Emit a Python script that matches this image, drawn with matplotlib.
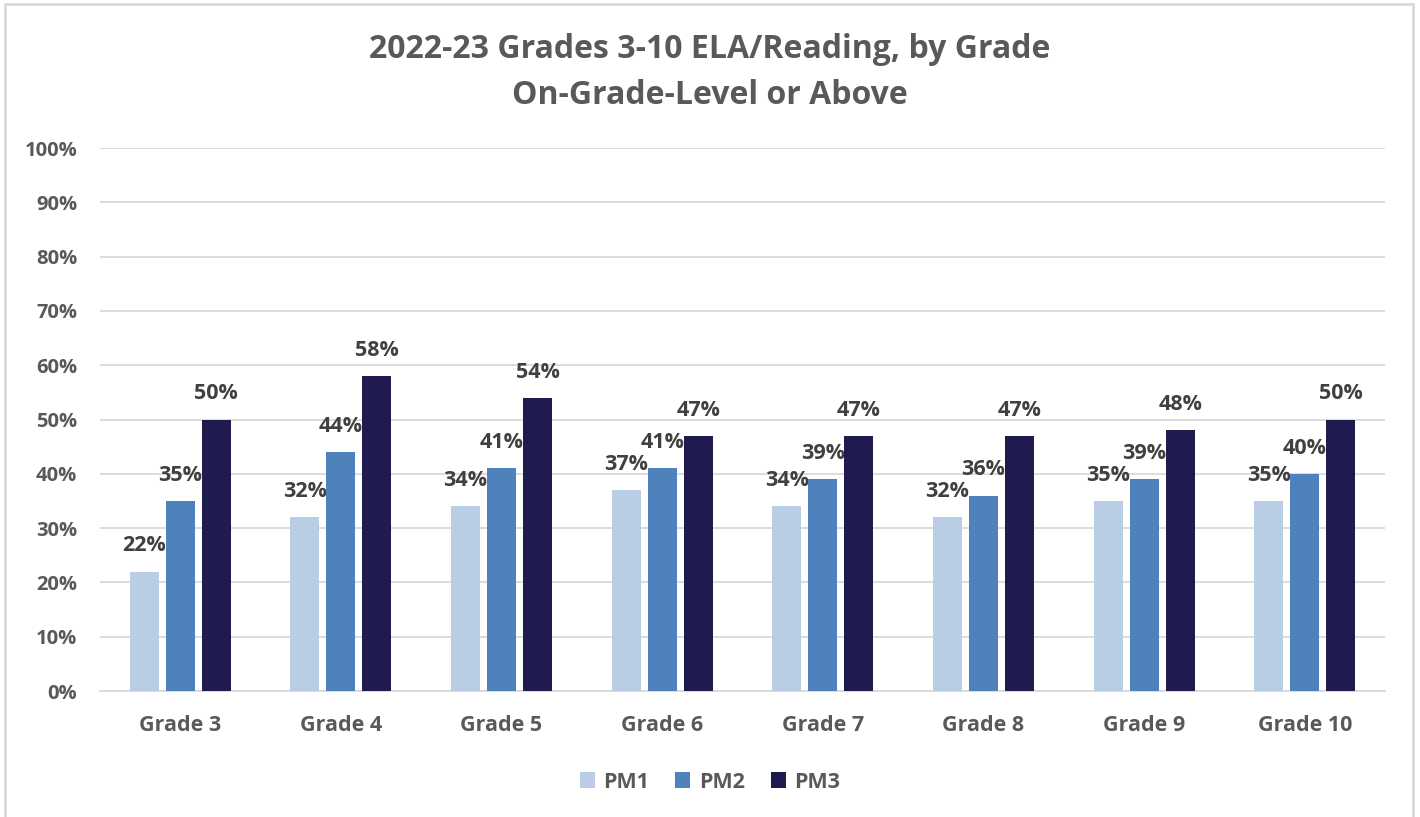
import numpy as np
import matplotlib.pyplot as plt
from matplotlib.patches import Rectangle

plt.rcParams['font.family'] = ['Open Sans', 'DejaVu Sans']

# data
grades = ['Grade 3', 'Grade 4', 'Grade 5', 'Grade 6', 'Grade 7', 'Grade 8', 'Grade 9', 'Grade 10']
pm1 = [22, 32, 34, 37, 34, 32, 35, 35]
pm2 = [35, 44, 41, 41, 39, 36, 39, 40]
pm3 = [50, 58, 54, 47, 47, 47, 48, 50]
series_names = ['PM1', 'PM2', 'PM3']
colors = ['#B9CDE5', '#4F81BD', '#1F1B4F']

fig = plt.figure(figsize=(14.2, 8.17), dpi=100)
ax = fig.add_axes([0.0704, 0.1542, 0.905, 0.6646])

# chart frame
fig.patches.append(Rectangle((5 / 1420, -0.01), 1408 / 1420, 1 - 4 / 817 + 0.01,
                             transform=fig.transFigure, fill=False,
                             edgecolor='#D9D9D9', linewidth=2))

x = np.arange(len(grades))
w = 0.18
step = 0.224
for i, (vals, name) in enumerate(zip([pm1, pm2, pm3], series_names)):
    pos = x + (i - 1) * step
    bars = ax.bar(pos, vals, width=w, color=colors[i], label=name, zorder=3)
    for xp, v in zip(pos, vals):
        ax.annotate(f'{v}%', (xp, v), xytext=(0, 11), textcoords='offset points',
                    ha='center', va='bottom', fontsize=15.5, fontweight='bold',
                    color='#404040')

ax.set_xlim(-0.5, len(grades) - 0.5)
ax.set_ylim(0, 100)
ax.set_yticks(np.arange(0, 101, 10))
ax.set_yticklabels([f'{t}%' for t in range(0, 101, 10)])
ax.set_xticks(x)
ax.set_xticklabels(grades)
ax.tick_params(axis='y', length=0, pad=16.5, labelsize=14.5, labelcolor='#595959')
ax.tick_params(axis='x', length=0, pad=17, labelsize=15.5, labelcolor='#595959')
for lab in ax.get_xticklabels() + ax.get_yticklabels():
    lab.set_fontweight('bold')

ax.grid(axis='y', color='#D9D9D9', linewidth=1.3, zorder=0)
for s in ['top', 'right', 'left']:
    ax.spines[s].set_visible(False)
ax.spines['bottom'].set_color('#D9D9D9')
ax.spines['bottom'].set_linewidth(1.3)

fig.text(0.5, 1 - 49 / 817, '2022-23 Grades 3-10 ELA/Reading, by Grade',
         ha='center', va='center', fontsize=23, fontweight='bold', color='#595959')
fig.text(0.5, 1 - 96 / 817, 'On-Grade-Level or Above',
         ha='center', va='center', fontsize=23, fontweight='bold', color='#595959')

leg = fig.legend(loc='center', bbox_to_anchor=(0.5, 1 - 782 / 817), ncol=3,
                 frameon=False, fontsize=15.5, handlelength=0.7, handleheight=0.7,
                 handletextpad=0.4, columnspacing=1.2)
for t in leg.get_texts():
    t.set_fontweight('bold')
    t.set_color('#595959')

plt.savefig('out.png', dpi=100)
